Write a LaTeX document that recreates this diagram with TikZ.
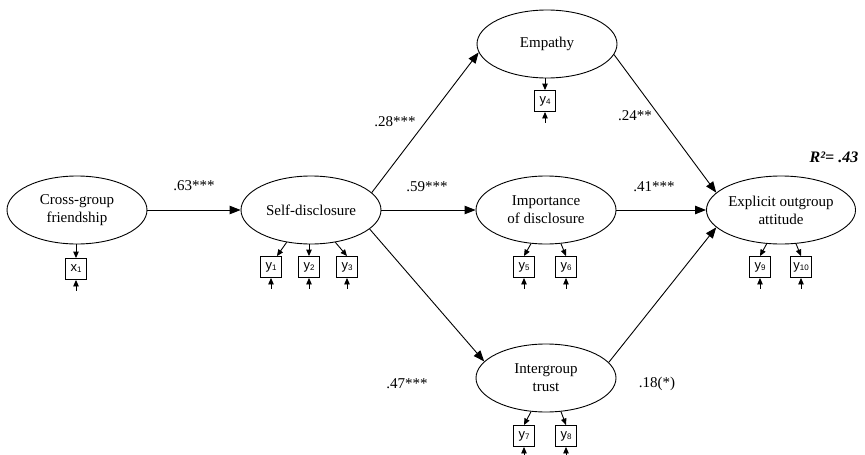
\documentclass[tikz,border=0pt]{standalone}
\usepackage{fontspec}
\setmainfont{Liberation Serif}
\newfontfamily\boxfont{Liberation Sans}
\usetikzlibrary{arrows.meta,shapes.geometric}
\newcommand{\ind}[2]{#1\raisebox{-1pt}{\fontsize{8}{8}\selectfont #2}}
\begin{document}
\begin{tikzpicture}[x=1pt,y=-1pt,
  lat/.style={draw,ellipse,minimum width=140pt,minimum height=68pt,inner sep=0pt,align=center,line width=0.9pt,font=\fontsize{15}{18}\selectfont},
  indbox/.style={draw,rectangle,minimum width=21pt,minimum height=21pt,inner sep=1.5pt,line width=0.9pt,font=\boxfont\fontsize{13}{13}\selectfont},
  mainpath/.style={-{Triangle[length=11pt,width=8.5pt]},line width=0.9pt},
  smallarr/.style={-{Triangle[length=6.5pt,width=5.5pt]},line width=0.9pt},
  coef/.style={font=\fontsize{15}{18}\selectfont,inner sep=0pt}]
\useasboundingbox (0,0) rectangle (865,455);
% latent variables
\node[lat] (cross) at (77,210) {Cross-group\\friendship};
\node[lat] (self) at (311,210) {Self-disclosure};
\node[lat] (emp) at (547,44) {Empathy};
\node[lat] (imp) at (546,210) {Importance\\of disclosure};
\node[lat] (trust) at (546,378) {Intergroup\\trust};
\node[lat] (exp) at (781,210) {Explicit outgroup\\attitude};
% indicators
\node[indbox] (x1) at (76,269) {\ind{x}{1}};
\node[indbox] (y1) at (271,267) {\ind{y}{1}};
\node[indbox] (y2) at (309,267) {\ind{y}{2}};
\node[indbox] (y3) at (347,267) {\ind{y}{3}};
\node[indbox] (y4) at (545,101) {\ind{y}{4}};
\node[indbox] (y5) at (524,267) {\ind{y}{5}};
\node[indbox] (y6) at (566,267) {\ind{y}{6}};
\node[indbox] (y7) at (524,436) {\ind{y}{7}};
\node[indbox] (y8) at (566,436) {\ind{y}{8}};
\node[indbox] (y9) at (760,267) {\ind{y}{9}};
\node[indbox] (y10) at (801,267) {\ind{y}{10}};
% error stubs
\foreach \b in {x1,y1,y2,y3,y4,y5,y6,y9,y10}
  \draw[smallarr] ([yshift=-11pt]\b.south) -- (\b.south);
\foreach \b in {y7,y8}
  \draw[smallarr] ([yshift=-9pt]\b.south) -- (\b.south);
% loadings
\draw[smallarr] (cross.south -| x1.north) -- (x1.north);
\draw[smallarr] (self.233) -- ([xshift=-5pt]y1.north east);
\draw[smallarr] (self.south -| y2.north) -- (y2.north);
\draw[smallarr] (self.307) -- (y3.north);
\draw[smallarr] (emp.south -| y4.north) -- (y4.north);
\draw[smallarr] (imp.246) -- (y5.north);
\draw[smallarr] (imp.294) -- (y6.north);
\draw[smallarr] (trust.246) -- (y7.north);
\draw[smallarr] (trust.294) -- (y8.north);
\draw[smallarr] (exp.247) -- (y9.north);
\draw[smallarr] (exp.294) -- (y10.north);
% structural paths
\draw[mainpath] (cross.east) -- (self.west);
\draw[mainpath] (self.16) -- (emp.187);
\draw[mainpath] (self.east) -- (imp.west);
\draw[mainpath] (self.-18) -- (trust.165);
\draw[mainpath] (emp.-9) -- (exp.165);
\draw[mainpath] (imp.east) -- (exp.west);
\draw[mainpath] (trust.14) -- (exp.195);
% coefficients
\node[coef] (c1) at (194,186) {.63***};
\node[coef] (c2) at (395,122) {.28***};
\node[coef] (c3) at (427,187) {.59***};
\node[coef] (c4) at (407,384) {.47***};
\node[coef] (c5) at (635,116) {.24**};
\node[coef] (c6) at (654,187) {.41***};
\node[coef] (c7) at (657,384) {.18(*)};
\node[coef,font=\fontsize{16}{18}\selectfont\bfseries\itshape] (r2) at (834,157) {R²= .43};
\end{tikzpicture}
\end{document}
